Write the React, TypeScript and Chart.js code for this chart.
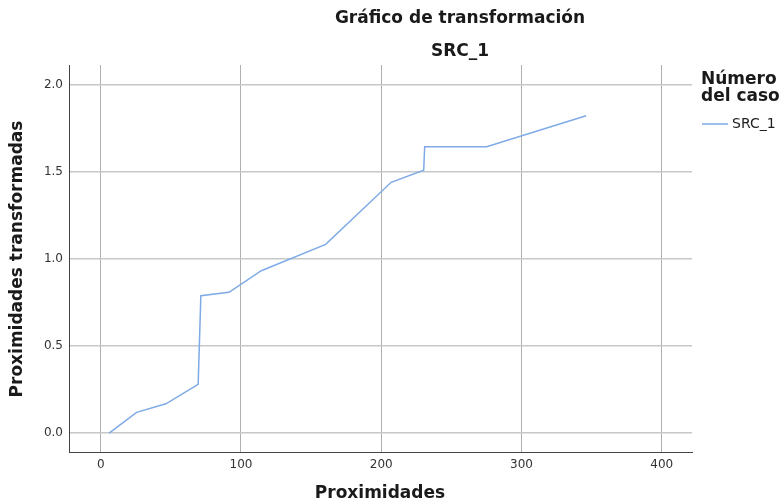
import React, { useEffect, useRef } from "react";
import { Chart, registerables } from "chart.js";

Chart.register(...registerables);

const proximidades = [6.0, 25.6, 46.5, 69.5, 71.4, 91.5, 114.5, 160.4, 207.1, 230.3, 231.0, 275.2, 346.1];
const transformadas = [0.0, 0.119, 0.168, 0.28, 0.789, 0.809, 0.933, 1.084, 1.441, 1.51, 1.645, 1.645, 1.823];
const xTicks = [0, 100, 200, 300, 400];
const yTicks = [0, 0.5, 1.0, 1.5, 2.0];
const seriesName = "SRC_1";
const chartTitle = "Gráfico de transformación";
const chartSubtitle = "SRC_1";
const xTitle = "Proximidades";
const yTitle = "Proximidades transformadas";
const legendTitle = ["Número", "del caso"];

const LINE_COLOR = "#7eaae6";
const FONT = "'DejaVu Sans', sans-serif";

const textPlugin = {
  id: "textPlugin",
  afterDraw(chart: any) {
    const ctx = chart.ctx as CanvasRenderingContext2D;
    ctx.save();
    ctx.fillStyle = "#1a1a1a";
    ctx.textAlign = "center";
    ctx.textBaseline = "middle";
    ctx.font = `bold 17px ${FONT}`;
    ctx.fillText(chartTitle, 460, 19);
    ctx.fillText(chartSubtitle, 460, 52);

    ctx.font = `bold 17px ${FONT}`;
    ctx.fillText(xTitle, 380, 494);
    ctx.save();
    ctx.translate(18, 259);
    ctx.rotate(-Math.PI / 2);
    ctx.fillText(yTitle, 0, 0);
    ctx.restore();

    ctx.textAlign = "left";
    ctx.font = `bold 17px ${FONT}`;
    ctx.fillText(legendTitle[0], 701, 80);
    ctx.fillText(legendTitle[1], 701, 97);
    ctx.strokeStyle = LINE_COLOR;
    ctx.lineWidth = 1.5;
    ctx.beginPath();
    ctx.moveTo(702, 124);
    ctx.lineTo(728, 124);
    ctx.stroke();
    ctx.fillStyle = "#222";
    ctx.font = `14px ${FONT}`;
    ctx.fillText(seriesName, 732, 124);
    ctx.restore();
  },
};

export default function App() {
  const ref = useRef<HTMLCanvasElement | null>(null);
  useEffect(() => {
    document.body.style.margin = "0";
    const canvas = ref.current;
    if (!canvas) return;
    const data = proximidades.map((x, i) => ({ x, y: transformadas[i] }));
    const chart = new Chart(canvas, {
      type: "scatter",
      data: {
        datasets: [
          {
            label: seriesName,
            data,
            showLine: true,
            borderColor: LINE_COLOR,
            backgroundColor: LINE_COLOR,
            borderWidth: 1.5,
            pointRadius: 0,
            tension: 0,
          },
        ],
      },
      options: {
        animation: false,
        responsive: false,
        devicePixelRatio: 1,
        layout: { padding: { top: 65, right: 89, left: 0, bottom: 0 } },
        plugins: {
          legend: { display: false },
          title: { display: false },
          tooltip: { enabled: false },
        },
        scales: {
          x: {
            type: "linear",
            min: -22.6,
            max: 421.6,
            afterBuildTicks: (s: any) => {
              s.ticks = xTicks.map((v) => ({ value: v }));
            },
            afterFit: (s: any) => {
              s.height = 52;
            },
            ticks: {
              padding: 6,
              color: "#333",
              font: { family: FONT, size: 12 },
              callback: (v: any) => String(v),
            },
            grid: { color: "#b0b0b0", lineWidth: 1, drawTicks: false },
            border: { display: true, color: "#444", width: 1 },
          },
          y: {
            type: "linear",
            min: -0.109,
            max: 2.115,
            afterBuildTicks: (s: any) => {
              s.ticks = yTicks.map((v) => ({ value: v }));
            },
            afterFit: (s: any) => {
              s.width = 69;
            },
            ticks: {
              padding: 6,
              color: "#333",
              font: { family: FONT, size: 12 },
              callback: (v: any) => Number(v).toFixed(1),
            },
            grid: { color: "#c8c8c8", lineWidth: 1.5, drawTicks: false },
            border: { display: true, color: "#444", width: 1 },
          },
        },
      },
      plugins: [textPlugin],
    });
    return () => chart.destroy();
  }, []);
  return <canvas ref={ref} width={781} height={504} style={{ width: 781, height: 504, display: "block" }} />;
}
